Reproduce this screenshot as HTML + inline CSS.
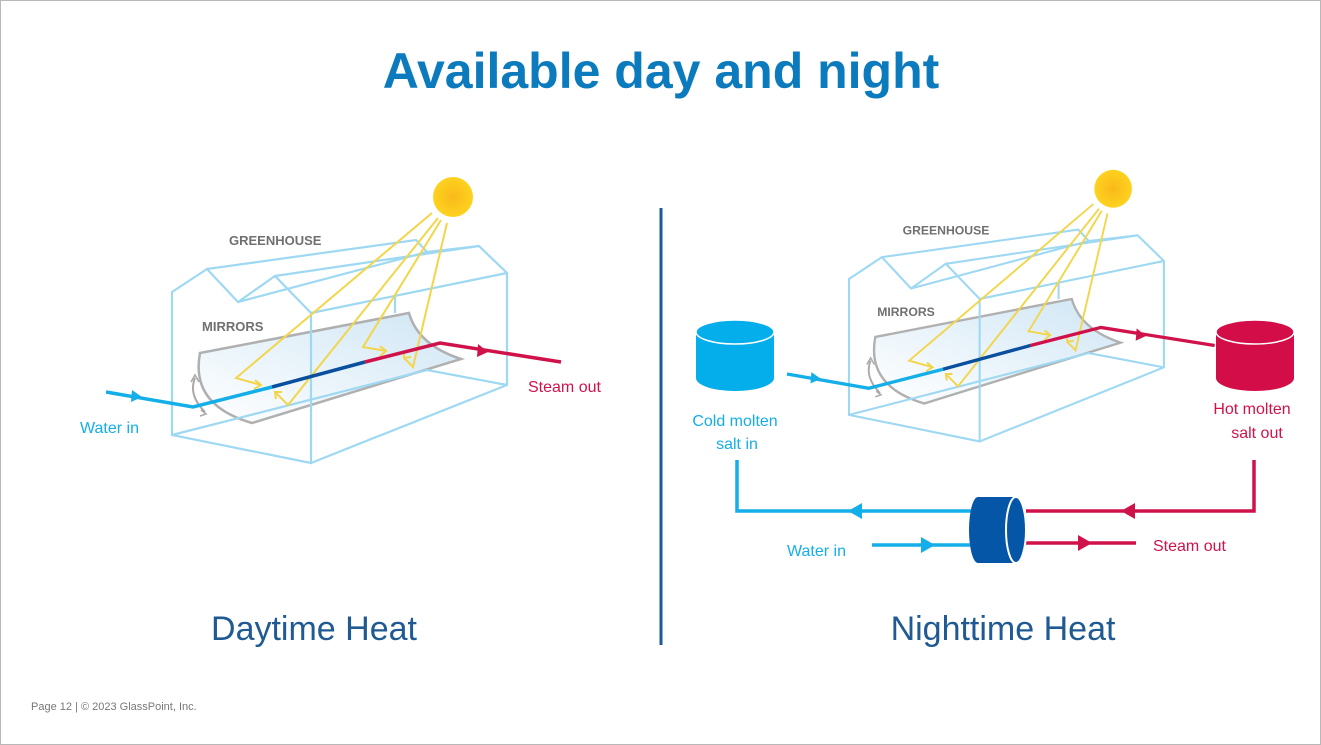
<!DOCTYPE html>
<html><head><meta charset="utf-8"><style>
body{margin:0;background:#fff;}
svg{display:block;}
</style></head><body>
<svg width="1321" height="745" viewBox="0 0 1321 745" xmlns="http://www.w3.org/2000/svg" font-family="Liberation Sans, sans-serif">
<defs>
<linearGradient id="mg" x1="0" y1="1" x2="1" y2="0">
<stop offset="0" stop-color="#ffffff"/><stop offset="1" stop-color="#cfe6f5"/>
</linearGradient>
<radialGradient id="sun" cx="0.5" cy="0.5" r="0.5">
<stop offset="0" stop-color="#f8b91a"/><stop offset="1" stop-color="#ffd21f"/>
</radialGradient>
<g id="gh">
 <!-- mirror -->
 <path d="M200,353 L409,313 Q418,345 461,359 L252,423 Q190,405 200,353 Z" fill="url(#mg)" stroke="#b0b0b0" stroke-width="2.5"/>
 <!-- rotation arrow -->
 <path d="M195,378 Q188,395 205,412" fill="none" stroke="#aaa" stroke-width="2"/>
 <path d="M191,382 L195,375 L199,382 M201,410 L206,414 L200,416" fill="none" stroke="#aaa" stroke-width="1.6"/>
 <!-- greenhouse -->
 <g fill="none" stroke="#9ed8f2" stroke-width="2.2">
  <path d="M172,292 L207,269 L238,302 L275,276 L311,313 L311,463 L172,435 Z"/>
  <path d="M207,269 L416,240 L427,252 L479,246 L507,273 L507,385 L311,463"/>
  <path d="M275,276 L479,246"/>
  <path d="M238,302 L427,252"/>
  <path d="M311,313 L507,273"/>
  <path d="M172,435 L427,370 L507,385"/>
  <path d="M395,297 L395,313"/>
 </g>
 <!-- rays -->
 <g fill="none" stroke="#f3d54a" stroke-width="2">
  <path d="M432,213 L236,378 L261,385"/>
  <path d="M438,218 L288,405 L275,392"/>
  <path d="M441,220 L363,347 L386,351"/>
  <path d="M447,223 L413,367 L404,358"/>
  <path d="M255,380 L261,385 L254,389 M282,392 L275,392 L276,399 M380,346 L386,351 L380,356 M404,351 L404,358 L411,357"/>
 </g>
 <!-- pipe -->
 <path d="M106,392 L193,407 L272,387" fill="none" stroke="#14aee8" stroke-width="3.5"/>
 <path d="M272,387 L365,362" fill="none" stroke="#0a4f9e" stroke-width="3.5"/>
 <path d="M365,362 L440,343 L561,362" fill="none" stroke="#d0124a" stroke-width="3.5"/>
 <path d="M132,390 L142,397 L131,402 Z" fill="#14aee8"/>
 <path d="M478,344 L488,352 L477,357 Z" fill="#d0124a"/>
 <circle cx="453" cy="197" r="20" fill="url(#sun)"/>
 <text x="229" y="245" font-size="13" font-weight="bold" fill="#707070">GREENHOUSE</text>
 <text x="202" y="331" font-size="13" font-weight="bold" fill="#707070">MIRRORS</text>
</g>
</defs>
<rect x="0.5" y="0.5" width="1320" height="744" fill="#fff" stroke="#b8b8b8"/>
<text x="661" y="88" text-anchor="middle" font-size="50" font-weight="bold" fill="#0b7bbd">Available day and night</text>
<line x1="661" y1="208" x2="661" y2="645" stroke="#1b5b95" stroke-width="3"/>

<use href="#gh"/>
<text x="80" y="433" font-size="16" fill="#14aee8">Water in</text>
<text x="528" y="392" font-size="16" fill="#d0124a">Steam out</text>

<g transform="translate(849,279) scale(0.94,0.95) translate(-172,-292)"><use href="#gh"/></g>

<!-- tanks -->
<path d="M696,332 L696,378 A39,13 0 0 0 774,378 L774,332 Z" fill="#04aeea"/>
<ellipse cx="735" cy="332" rx="39" ry="12" fill="#04aeea" stroke="#fff" stroke-width="1.5"/>
<path d="M1216,332 L1216,378 A39,13 0 0 0 1294,378 L1294,332 Z" fill="#d20d48"/>
<ellipse cx="1255" cy="332" rx="39" ry="12" fill="#d20d48" stroke="#fff" stroke-width="1.5"/>
<text x="735" y="426" text-anchor="middle" font-size="16" fill="#14aee8">Cold molten</text>
<text x="737" y="449" text-anchor="middle" font-size="16" fill="#14aee8">salt in</text>
<text x="1252" y="414" text-anchor="middle" font-size="16" fill="#d0124a">Hot molten</text>
<text x="1257" y="438" text-anchor="middle" font-size="16" fill="#d0124a">salt out</text>

<!-- loop lines -->
<path d="M737,460 L737,511 L972,511" fill="none" stroke="#14aee8" stroke-width="3.5"/>
<path d="M1254,460 L1254,511 L1026,511" fill="none" stroke="#d0124a" stroke-width="3.5"/>
<path d="M848,511 L862,503 L862,519 Z" fill="#14aee8"/>
<path d="M1121,511 L1135,503 L1135,519 Z" fill="#d0124a"/>
<path d="M872,545 L972,545" stroke="#14aee8" stroke-width="3.5"/>
<path d="M935,545 L921,537 L921,553 Z" fill="#14aee8"/>
<path d="M1026,543 L1136,543" stroke="#d0124a" stroke-width="3.5"/>
<path d="M1092,543 L1078,535 L1078,551 Z" fill="#d0124a"/>
<!-- heat exchanger -->
<path d="M978,497 L1016,497 L1016,563 L978,563 A9,33 0 0 1 978,497 Z" fill="#0656a8"/>
<ellipse cx="1016" cy="530" rx="10" ry="33" fill="#0656a8" stroke="#fff" stroke-width="2"/>
<text x="787" y="556" font-size="16" fill="#14aee8">Water in</text>
<text x="1153" y="551" font-size="16" fill="#d0124a">Steam out</text>

<text x="314" y="640" text-anchor="middle" font-size="34" fill="#1f5a93">Daytime Heat</text>
<text x="1003" y="640" text-anchor="middle" font-size="34" fill="#1f5a93">Nighttime Heat</text>
<text x="31" y="710" font-size="11" fill="#777">Page 12 | © 2023 GlassPoint, Inc.</text>
</svg>
</body></html>
